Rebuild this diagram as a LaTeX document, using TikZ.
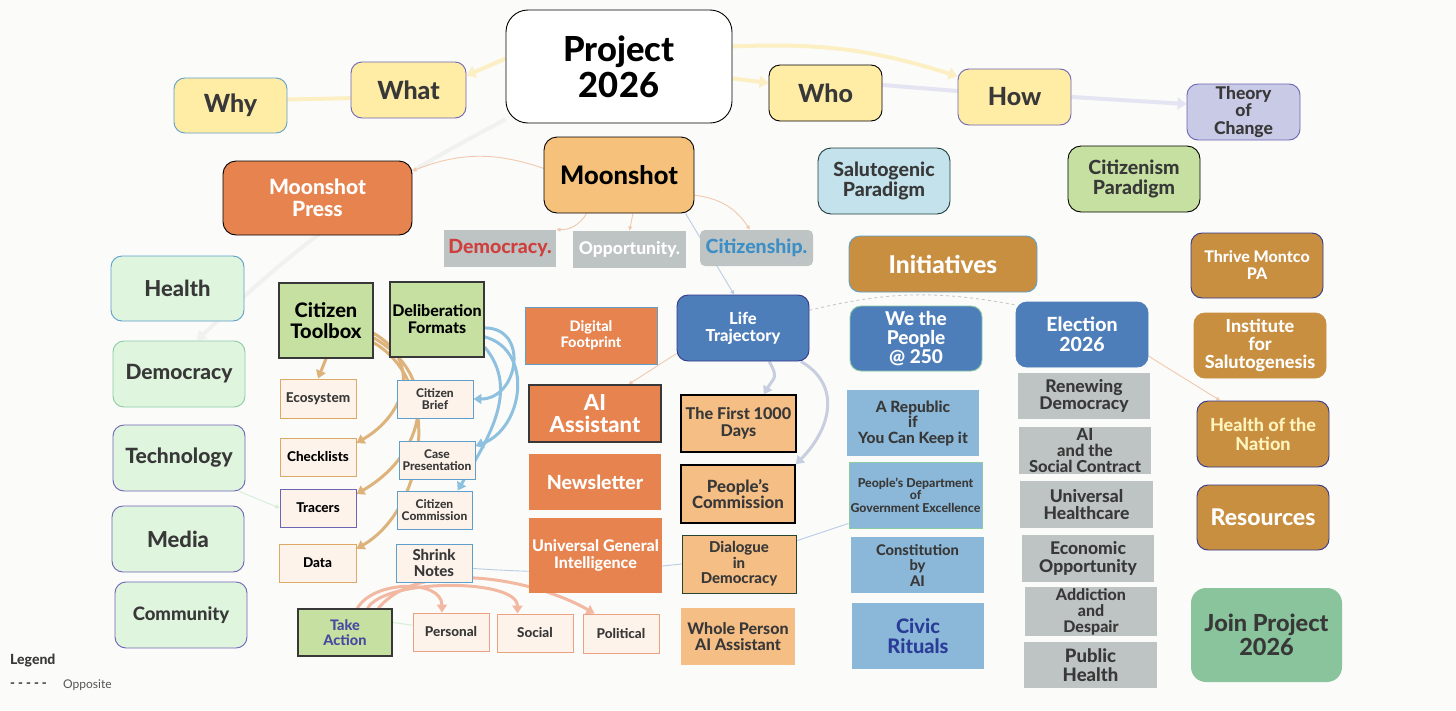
\documentclass[tikz,border=0pt]{standalone}
\usepackage{fontspec}
\setmainfont{Lato}[BoldFont={Lato Heavy}]
\usepackage{tikz}
\usetikzlibrary{positioning, arrows.meta, backgrounds}
\usepackage{xcolor}

\definecolor{bg}{HTML}{FBFBF9}
\definecolor{ink}{HTML}{383838}
\definecolor{qyellow}{HTML}{FFEDA6}
\definecolor{qlav}{HTML}{C8CAE6}
\definecolor{qorange}{HTML}{E7834F}
\definecolor{qmoon}{HTML}{F6C27B}
\definecolor{qsalu}{HTML}{C4E2EC}
\definecolor{qgreen}{HTML}{C5E0A0}
\definecolor{qtag}{HTML}{BEC3C3}
\definecolor{qtan}{HTML}{C88F40}
\definecolor{qmint}{HTML}{DFF5DE}
\definecolor{qblue}{HTML}{4E7EBA}
\definecolor{qsky}{HTML}{8BB8D8}
\definecolor{qpeach}{HTML}{F5BE85}
\definecolor{qcream}{HTML}{FDF3EA}
\definecolor{qjoin}{HTML}{8AC49C}
\definecolor{bpurple}{HTML}{6E64B4}
\definecolor{bsky}{HTML}{5E9FCB}
\definecolor{bmint}{HTML}{8CCBA4}
\definecolor{bnavy}{HTML}{34388C}
\definecolor{btan}{HTML}{DDAA66}
\definecolor{bsalmon}{HTML}{EBA283}
\definecolor{bteal}{HTML}{1F3C3C}
\definecolor{bdkgreen}{HTML}{27442F}
\definecolor{tred}{HTML}{CF3F3E}
\definecolor{tblue}{HTML}{3B8FC6}
\definecolor{tindigo}{HTML}{4649A0}
\definecolor{tcivic}{HTML}{2A3C98}
\definecolor{tcream}{HTML}{FFF4BE}
\definecolor{lyellow}{HTML}{FCEFC4}
\definecolor{llav}{HTML}{E4E4F2}
\definecolor{ltan}{HTML}{DDB37B}
\definecolor{lblue}{HTML}{8EC1DF}
\definecolor{lsalmon}{HTML}{F2B8A2}
\definecolor{lfaint}{HTML}{F1F1EF}
\definecolor{lpeach}{HTML}{F1C9AE}
\definecolor{lthin}{HTML}{B9CDE6}
\definecolor{lgreen}{HTML}{D6EED6}
\definecolor{lmix}{HTML}{C6CEDF}
\definecolor{ldash}{HTML}{C8C8C8}

\begin{document}
\begin{tikzpicture}[x=1pt, y=-1pt,
    box/.style={rectangle, rounded corners=11pt, draw, line width=0.9pt, align=center, inner sep=1pt, text=ink},
    sq/.style={rectangle, draw, line width=0.9pt, align=center, inner sep=1pt, text=ink},
    sz/.style 2 args={minimum width=#1pt, minimum height=#2pt},
    fs/.style 2 args={font=\bfseries\fontsize{#1}{#2}\selectfont},
    bigarrow/.style={line width=4pt, -{Triangle[length=9pt, width=12pt]}},
    arrow/.style={line width=3pt, -{Triangle[length=8pt, width=10pt]}},
    smallarrow/.style={line width=0.9pt, -{Triangle[length=4pt, width=4pt]}}
]
\useasboundingbox (0,0) rectangle (1456,710);

\node[box, fill=white, draw=black, text=black, fs={34.5}{36}, sz={226}{113}, rounded corners=22pt] (proj) at (619,66.5) {Project\\2026};
\node[box, fill=qyellow, draw=bsky, fs={25}{27}, sz={113}{55}] (why) at (230.5,105.5) {Why};
\node[box, fill=qyellow, draw=bpurple, fs={25}{27}, sz={115}{56}] (what) at (408.5,90) {What};
\node[box, fill=qyellow, draw=black, fs={25}{27}, sz={113}{56}] (who) at (825.5,93) {Who};
\node[box, fill=qyellow, draw=bpurple, fs={25}{27}, sz={113}{56}] (how) at (1014.5,97) {How};
\node[box, fill=qlav, draw=bpurple, fs={17.5}{17.5}, sz={113}{56}] (toc) at (1243.5,112) {Theory\\of\\Change};

\node[box, fill=qorange, draw=black, text=white, fs={21}{22}, sz={189}{74}, rounded corners=13pt] (mpress) at (317.5,198) {Moonshot\\Press};
\node[box, fill=qmoon, draw=black, text=black, fs={25.5}{27}, sz={150}{76}, rounded corners=13pt] (moon) at (619,175) {Moonshot};
\node[box, fill=qsalu, draw=bteal, fs={19.5}{20}, sz={132}{66}, rounded corners=13pt] (salu) at (884,181) {Salutogenic\\Paradigm};
\node[box, fill=qgreen, draw=black, fs={19.5}{20}, sz={132}{66}, rounded corners=13pt] (cism) at (1134,179) {Citizenism\\Paradigm};

\node[sq, draw=none, fill=qtag, text=tred, fs={19.5}{20}, sz={112}{37}] (tdem) at (500,248.5) {Democracy.};
\node[sq, draw=none, fill=qtag, text=white, fs={17.5}{20}, sz={113}{37}] (topp) at (629.5,249.5) {Opportunity.};
\node[box, draw=none, fill=qtag, text=tblue, fs={19.5}{20}, sz={113}{36}, rounded corners=5pt] (tcit) at (756.5,248) {Citizenship.};

\node[box, fill=qtan, draw=bsky, text=white, fs={24.5}{26}, sz={188}{56}] (init) at (943,264) {Initiatives};
\node[box, fill=qtan, draw=bnavy, text=white, fs={16}{17}, sz={132}{65}] (thrive) at (1257,265.5) {Thrive Montco\\PA};
\node[box, fill=qtan, draw=qtan, text=white, fs={18}{18}, sz={132}{65}] (inst) at (1260,345.5) {Institute\\for\\Salutogenesis};
\node[box, fill=qtan, draw=bnavy, text=tcream, fs={18}{19}, sz={132}{66}] (hotn) at (1263,434) {Health of the\\Nation};
\node[box, fill=qtan, draw=bnavy, text=white, fs={23}{24}, sz={132}{65}] (res) at (1263,517.5) {Resources};
\node[box, fill=qjoin, draw=none, fs={23.5}{24}, sz={151}{94}, rounded corners=15pt] (join) at (1266.5,635) {Join Project\\2026};

\node[box, fill=qmint, draw=bsky, fs={22}{24}, sz={133}{65}] (health) at (177.5,288.5) {Health};
\node[box, fill=qmint, draw=bmint, fs={21}{23}, sz={132}{66}] (democ) at (179,374) {Democracy};
\node[box, fill=qmint, draw=bpurple, fs={21}{23}, sz={132}{66}] (tech) at (179,458) {Technology};
\node[box, fill=qmint, draw=bpurple, fs={22}{24}, sz={132}{66}] (media) at (178,539) {Media};
\node[box, fill=qmint, draw=bpurple, fs={18.5}{20}, sz={132}{66}] (comm) at (181,615) {Community};

\node[sq, fill=qgreen, draw=ink, text=black, line width=1.3pt, fs={20}{20.5}, sz={94}{75}] (ctool) at (326,320.5) {Citizen\\Toolbox};
\node[sq, fill=qgreen, draw=ink, text=black, line width=1.3pt, fs={16}{17}, sz={94}{75}] (dform) at (437,319.5) {Deliberation\\Formats};
\node[sq, fill=qcream, draw=btan, fs={13.5}{14}, sz={76}{39}] (eco) at (318,398.5) {Ecosystem};
\node[sq, fill=qcream, draw=btan, text=black, fs={13.5}{14}, sz={76}{38}] (check) at (318,457) {Checklists};
\node[sq, fill=qcream, draw=bpurple, text=black, fs={13.5}{14}, sz={76}{38}] (tracer) at (318,508) {Tracers};
\node[sq, fill=qcream, draw=btan, text=black, fs={13.5}{14}, sz={77}{38}] (data) at (317.5,563) {Data};
\node[sq, fill=qcream, draw=bsky, fs={12}{12.5}, sz={76}{38}] (cbrief) at (435,399) {Citizen\\Brief};
\node[sq, fill=qcream, draw=bsky, fs={12}{12.5}, sz={76}{38}] (casep) at (437,460) {Case\\Presentation};
\node[sq, fill=qcream, draw=bsky, fs={12}{12.5}, sz={75}{38}] (ccomm) at (434.5,510) {Citizen\\Commission};
\node[sq, fill=qcream, draw=bsky, fs={15}{15.5}, sz={76}{38}] (shrink) at (434,563) {Shrink\\Notes};

\node[sq, fill=qorange, draw=bsky, text=white, fs={14.5}{16}, sz={132}{57}] (digfp) at (591,335.5) {Digital\\Footprint};
\node[sq, fill=qorange, draw=ink, text=white, line width=1.3pt, fs={22}{22}, sz={132}{57}] (aiass) at (595,413.5) {AI\\Assistant};
\node[sq, fill=qorange, draw=none, text=white, fs={19.5}{21}, sz={132}{56}] (news) at (595,482) {Newsletter};
\node[sq, fill=qorange, draw=none, text=white, fs={16}{16.5}, sz={133}{75}] (ugi) at (595.5,555.5) {Universal General\\Intelligence};

\node[sq, fill=qgreen, draw=ink, text=tindigo, line width=1.3pt, fs={14.5}{15}, sz={94}{47}] (take) at (345,632.5) {Take\\Action};
\node[sq, fill=qcream, draw=bsalmon, fs={13.5}{14}, sz={76}{38}] (pers) at (451,632) {Personal};
\node[sq, fill=qcream, draw=bsalmon, fs={13.5}{14}, sz={76}{38}] (social) at (535,633) {Social};
\node[sq, fill=qcream, draw=bsalmon, fs={13.5}{14}, sz={76}{39}] (polit) at (621,633.5) {Political};

\node[box, fill=qblue, draw=bnavy, text=white, fs={16.5}{17}, sz={132}{66}] (life) at (743,328) {Life\\Trajectory};
\node[box, fill=qblue, draw=bmint, text=white, fs={19}{19}, sz={132}{65}] (wtp) at (916,338.5) {We the\\People\\@ 250};
\node[box, fill=qblue, draw=qblue, text=white, fs={19.5}{20}, sz={132}{65}] (elect) at (1082,334.5) {Election\\2026};

\node[sq, fill=qpeach, draw=black, line width=1.3pt, fs={16.2}{17}, sz={115}{57}] (f1000) at (738.5,423.5) {The First 1000\\Days};
\node[sq, fill=qpeach, draw=black, line width=1.3pt, fs={16.8}{16}, sz={114}{58}] (pcomm) at (738,494) {People's\\Commission};
\node[sq, fill=qpeach, draw=bdkgreen, fs={15}{15.5}, sz={114}{58}] (dialog) at (739,564) {Dialogue\\in\\Democracy};
\node[sq, fill=qpeach, draw=none, fs={16}{16}, sz={114}{57}] (whole) at (738,636.5) {Whole Person\\AI Assistant};

\node[sq, fill=qsky, draw=none, fs={15.5}{15.5}, sz={132}{66}] (repub) at (913,423) {A Republic\\if\\You Can Keep it};
\node[sq, fill=qsky, draw=bmint, fs={12.3}{12.5}, sz={133}{66}] (pdge) at (915.5,495) {People's Department\\of\\Government Excellence};
\node[sq, fill=qsky, draw=none, fs={14.7}{15.5}, sz={133}{56}] (const) at (917.5,565) {Constitution\\by\\AI};
\node[sq, fill=qsky, draw=none, text=tcivic, fs={20}{20}, sz={132}{66}] (civic) at (918,636) {Civic\\Rituals};

\node[sq, fill=qtag, draw=none, fs={17.5}{17.5}, sz={132}{46}] (renew) at (1084,396) {Renewing\\Democracy};
\node[sq, fill=qtag, draw=none, fs={16.5}{16}, sz={132}{47}] (aisoc) at (1085,450.5) {AI\\and the\\Social Contract};
\node[sq, fill=qtag, draw=none, fs={17.5}{17.5}, sz={133}{47}] (unihc) at (1086.5,504.5) {Universal\\Healthcare};
\node[sq, fill=qtag, draw=none, fs={17.5}{17.5}, sz={132}{47}] (econ) at (1088,558.5) {Economic\\Opportunity};
\node[sq, fill=qtag, draw=none, fs={16}{16}, sz={132}{47}] (addict) at (1091,611.5) {Addiction\\and\\Despair};
\node[sq, fill=qtag, draw=none, fs={18.5}{18.5}, sz={133}{46}] (public) at (1090.5,665) {Public\\Health};

\node[anchor=west, inner sep=1pt, text=ink, fs={14}{16}] (legend) at (9,661) {Legend};
\node[anchor=west, inner sep=1pt, text=ink, font=\bfseries\fontsize{13}{14}\selectfont] (dashes) at (9,685) {- - - - -};
\node[anchor=west, inner sep=1pt, text=ink!85, font=\fontsize{12}{14}\selectfont] (opp) at (62,685) {Opposite};

\begin{scope}[on background layer]
\fill[bg] (0,0) rectangle (1456,710);
\draw[bigarrow, lfaint] (proj.205) to[bend right=8] (democ.62);
\draw[bigarrow, lyellow] (proj.176) -- (what.14);
\draw[line width=4pt, lyellow] (what.188) -- (why.6);
\draw[bigarrow, lyellow] (proj.-6) -- (who.170);
\draw[bigarrow, lyellow] (proj.10) to[bend left=10] (how.160);
\draw[line width=4pt, llav] (who.8) -- (how.174);
\draw[bigarrow, llav] (how.east) -- (toc.172);
\draw[smallarrow, lpeach] (moon.175) to[bend right=20] (mpress.16);
\draw[smallarrow, lpeach] (moon.230) to[bend left=30] (tdem.north east);
\draw[smallarrow, lpeach] (moon.-70) -- (topp.north);
\draw[smallarrow, lpeach] (moon.-15) to[bend left=25] (tcit.110);
\draw[smallarrow, lthin] (moon.-30) -- (life.105);
\draw[arrow, ltan] (ctool.south) -- (eco.north);
\draw[arrow, ltan] (ctool.-15) to[out=-30, in=30, looseness=1.3] (check.20);
\draw[arrow, ltan] (ctool.-20) to[out=-30, in=30, looseness=1.3] (tracer.20);
\draw[arrow, ltan] (ctool.-25) to[out=-30, in=30] (data.20);
\draw[arrow, lblue] (dform.-10) to[out=0, in=0, looseness=1.6] (cbrief.east);
\draw[arrow, lblue] (dform.-20) to[out=-15, in=20, looseness=1.2] (casep.20);
\draw[arrow, lblue] (dform.-30) to[out=-50, in=60] (ccomm.40);
\draw[smallarrow, lgreen] (tech.-29) -- (tracer.west);
\draw[line width=1pt, lgreen] (take.12) -- (pers.170);
\draw[arrow, lsalmon] (take.63) to[out=60, in=90] (pers.115);
\draw[arrow, lsalmon] (take.47) to[out=60, in=90, looseness=0.6] (social.132);
\draw[arrow, lsalmon] (take.36) to[out=50, in=150, looseness=0.8] (polit.143);
\draw[smallarrow, lpeach] (life.201) -- (aiass.41);
\draw[line width=0.9pt, lthin] (shrink.-8) to[bend right=5] (dialog.west);
\draw[line width=0.9pt, lthin] (dialog.22) -- (pdge.203);
\draw[arrow, lmix] (life.-52) to[out=-60, in=60, looseness=1.5] (f1000.49);
\draw[arrow, lmix] (life.-30) to[out=-30, in=45, looseness=1.2] (pcomm.north east);
\draw[line width=0.9pt, ldash, dashed] (life.15) to[bend left=12] (elect.156);
\draw[smallarrow, lpeach] (elect.-18) -- (hotn.142);
\end{scope}
\end{tikzpicture}
\end{document}
